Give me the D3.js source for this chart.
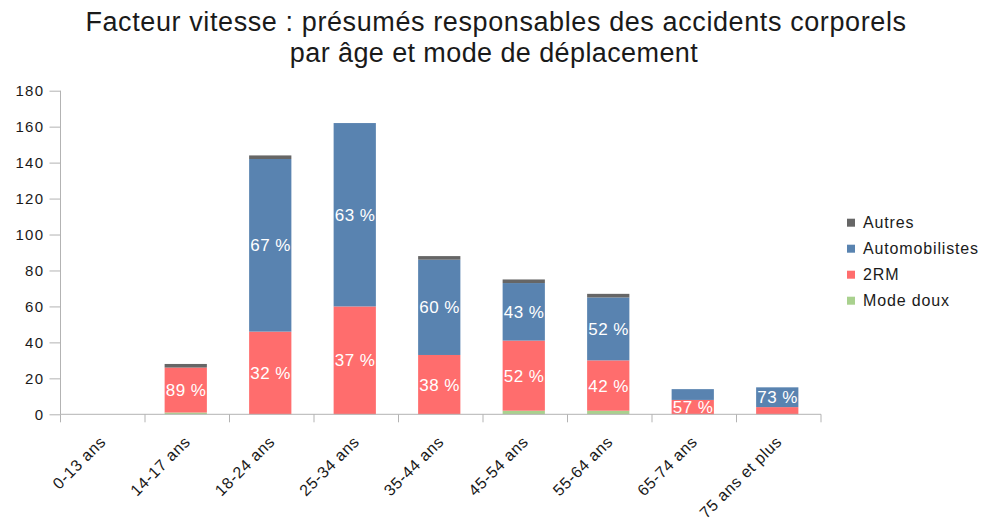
<!DOCTYPE html>
<html>
<head>
<meta charset="utf-8">
<script src="https://cdn.jsdelivr.net/npm/d3@7"></script>
<style>
  html, body { margin: 0; padding: 0; background: #fff; }
  svg { display: block; font-family: "Liberation Sans", Arial, sans-serif; }
</style>
</head>
<body>
<svg id="chart" width="987" height="523"></svg>
<script>
// Age groups on the x axis
const categories = ["0-13 ans", "14-17 ans", "18-24 ans", "25-34 ans", "35-44 ans",
                    "45-54 ans", "55-64 ans", "65-74 ans", "75 ans et plus"];

// Presumed responsible drivers per travel mode (stacked bottom to top)
const modeDoux       = [0, 1, 0, 0, 0, 2, 2, 0, 0];
const deuxRM         = [0, 25, 46, 60, 33, 39, 28, 8, 4];
const automobilistes = [0, 0, 96, 102, 53, 32, 35, 6, 11];
const autres         = [0, 2, 2, 0, 2, 2, 2, 0, 0];

// Which segments carry a percentage label
const showDeuxRM = [false, true, true, true, true, true, true, true, false];
const showAuto   = [false, false, true, true, true, true, true, false, true];

const yTicks = [0, 20, 40, 60, 80, 100, 120, 140, 160, 180];

const series = [
  { key: "Mode doux",      values: modeDoux,       color: "#a9d18e", show: null },
  { key: "2RM",            values: deuxRM,         color: "#ff6d6d", show: showDeuxRM },
  { key: "Automobilistes", values: automobilistes, color: "#5983b0", show: showAuto },
  { key: "Autres",         values: autres,         color: "#666666", show: null }
];

const svg = d3.select("#chart");
const textColor = "#1a1a1a";

const x = d3.scaleBand().domain(categories).range([60.5, 821]).padding(0);
const y = d3.scaleLinear().domain([0, 180]).range([414.3, 90.7]);

// Title, two centred lines
const title = svg.append("text")
  .attr("x", 496).attr("y", 31)
  .attr("text-anchor", "middle")
  .attr("font-size", 27)
  .attr("letter-spacing", 0.6)
  .attr("fill", textColor);
title.append("tspan").attr("x", 496).attr("dy", 0)
  .text("Facteur vitesse : présumés responsables des accidents corporels");
title.append("tspan").attr("x", 494).attr("dy", 31)
  .attr("letter-spacing", 0.4)
  .text("par âge et mode de déplacement");

// Stacked data
const rows = categories.map((c, i) => {
  const r = { cat: c };
  series.forEach(s => { r[s.key] = s.values[i]; });
  return r;
});
const totals = categories.map((c, i) => d3.sum(series, s => s.values[i]));
const stacked = d3.stack().keys(series.map(s => s.key))(rows);

const barW = x.bandwidth() * 0.5;
const barX = c => x(c) + (x.bandwidth() - barW) / 2 - 1.5;

const g = svg.append("g");
stacked.forEach((layer, li) => {
  const s = series[li];
  g.selectAll(null)
    .data(layer)
    .enter()
    .append("rect")
    .attr("x", d => barX(d.data.cat))
    .attr("width", barW)
    .attr("y", d => y(d[1]))
    .attr("height", d => y(d[0]) - y(d[1]))
    .attr("fill", s.color);
});

// Percentage labels inside segments
stacked.forEach((layer, li) => {
  const s = series[li];
  if (!s.show) return;
  g.selectAll(null)
    .data(layer.filter((d, i) => s.show[i]))
    .enter()
    .append("text")
    .attr("x", d => barX(d.data.cat) + barW / 2 + 0.3)
    .attr("y", d => (y(d[0]) + y(d[1])) / 2)
    .attr("dy", "0.36em")
    .attr("text-anchor", "middle")
    .attr("font-size", 17)
    .attr("letter-spacing", 0.5)
    .attr("fill", "#ffffff")
    .text(d => {
      const i = categories.indexOf(d.data.cat);
      return Math.round((d[1] - d[0]) / totals[i] * 100) + " %";
    });
});

// Y axis
const yAxis = svg.append("g").attr("transform", "translate(60.5,0)")
  .call(d3.axisLeft(y).tickValues(yTicks).tickSize(11).tickPadding(5.3));
yAxis.select(".domain").attr("stroke", "#b3b3b3").attr("d", `M0,${y(180)}V${y(0)}`);
yAxis.selectAll(".tick line").attr("stroke", "#b3b3b3");
yAxis.selectAll(".tick text")
  .attr("font-size", 15)
  .attr("letter-spacing", 1.2)
  .attr("fill", textColor)
  .attr("font-family", "Liberation Sans, Arial, sans-serif");

// X axis with ticks on band boundaries
const xAxis = svg.append("g").attr("transform", `translate(0,${y(0)})`);
xAxis.append("line").attr("x1", 60.5).attr("x2", 821).attr("y1", 0).attr("y2", 0)
  .attr("stroke", "#b3b3b3");
const bounds = categories.map(c => x(c)).concat([x.range()[1]]);
xAxis.selectAll(null).data(bounds).enter().append("line")
  .attr("x1", d => d).attr("x2", d => d).attr("y1", 0).attr("y2", 8)
  .attr("stroke", "#b3b3b3");
xAxis.selectAll(null).data(categories).enter().append("text")
  .attr("transform", d => `translate(${x(d) + x.bandwidth() / 2 + 4},${28.5}) rotate(-45)`)
  .attr("text-anchor", "end")
  .attr("font-size", 16)
  .attr("letter-spacing", 0.6)
  .attr("fill", textColor)
  .text(d => d);

// Legend, top entry first
const legend = svg.append("g");
series.slice().reverse().forEach((s, i) => {
  const cy = 222.7 + i * 26;
  legend.append("rect").attr("x", 847).attr("y", cy - 4).attr("width", 8).attr("height", 8)
    .attr("fill", s.color);
  legend.append("text").attr("x", 863).attr("y", cy).attr("dy", "0.36em")
    .attr("font-size", 16)
    .attr("letter-spacing", 0.85)
    .attr("fill", textColor).text(s.key);
});
</script>
</body>
</html>
